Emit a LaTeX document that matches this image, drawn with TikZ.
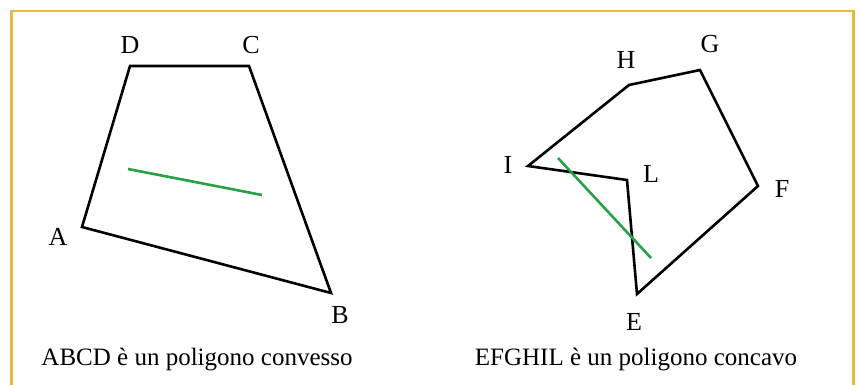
\documentclass[tikz,border=0pt]{standalone}
\usepackage{fontspec}
\setmainfont{Liberation Serif}
\usetikzlibrary{positioning}
\definecolor{frameyellow}{RGB}{232,184,64}
\definecolor{segreen}{RGB}{40,160,70}

\begin{document}
\begin{tikzpicture}[
  x=1pt, y=-1pt,
  poly/.style={draw=black, line width=2.6pt, line join=miter},
  seg/.style={draw=segreen, line width=2.6pt},
  lbl/.style={font=\fontsize{26}{30}\selectfont, inner sep=0pt},
  caption/.style={font=\fontsize{25}{30}\selectfont, inner sep=0pt}
]
\useasboundingbox (0,0) rectangle (860,385);
\draw[frameyellow, line width=2.6pt] (11.5,400) -- (11.5,11) -- (853.5,11) -- (853.5,400);

% convex polygon
\coordinate (A) at (82,227);
\coordinate (B) at (331,293);
\coordinate (C) at (249,66);
\coordinate (D) at (130,66);
\draw[poly] (A) -- (B) -- (C) -- (D) -- cycle;
\coordinate (p1) at (128,169);
\coordinate (p2) at (262,195);
\draw[seg] (p1) -- (p2);

\node[lbl] (lA) at (58,237) {A};
\node[lbl] (lB) at (340,315) {B};
\node[lbl] (lC) at (251,45) {C};
\node[lbl] (lD) at (130,45) {D};

% concave polygon
\coordinate (E) at (637,294);
\coordinate (F) at (758,186);
\coordinate (G) at (700,70);
\coordinate (H) at (629,85);
\coordinate (I) at (528,166);
\coordinate (L) at (627,180);
\draw[poly] (E) -- (F) -- (G) -- (H) -- (I) -- (L) -- cycle;
\coordinate (q1) at (558,158);
\coordinate (q2) at (651,258);
\draw[seg] (q1) -- (q2);

\node[lbl] (lE) at (634,322) {E};
\node[lbl] (lF) at (782,189) {F};
\node[lbl] (lG) at (710,44) {G};
\node[lbl] (lH) at (626,60) {H};
\node[lbl] (lI) at (508,165) {I};
\node[lbl] (lL) at (651,174) {L};

\node[caption] (capA) at (197,360) {ABCD è un poligono convesso};
\node[caption] (capB) at (636,360) {EFGHIL è un poligono concavo};
\end{tikzpicture}
\end{document}
